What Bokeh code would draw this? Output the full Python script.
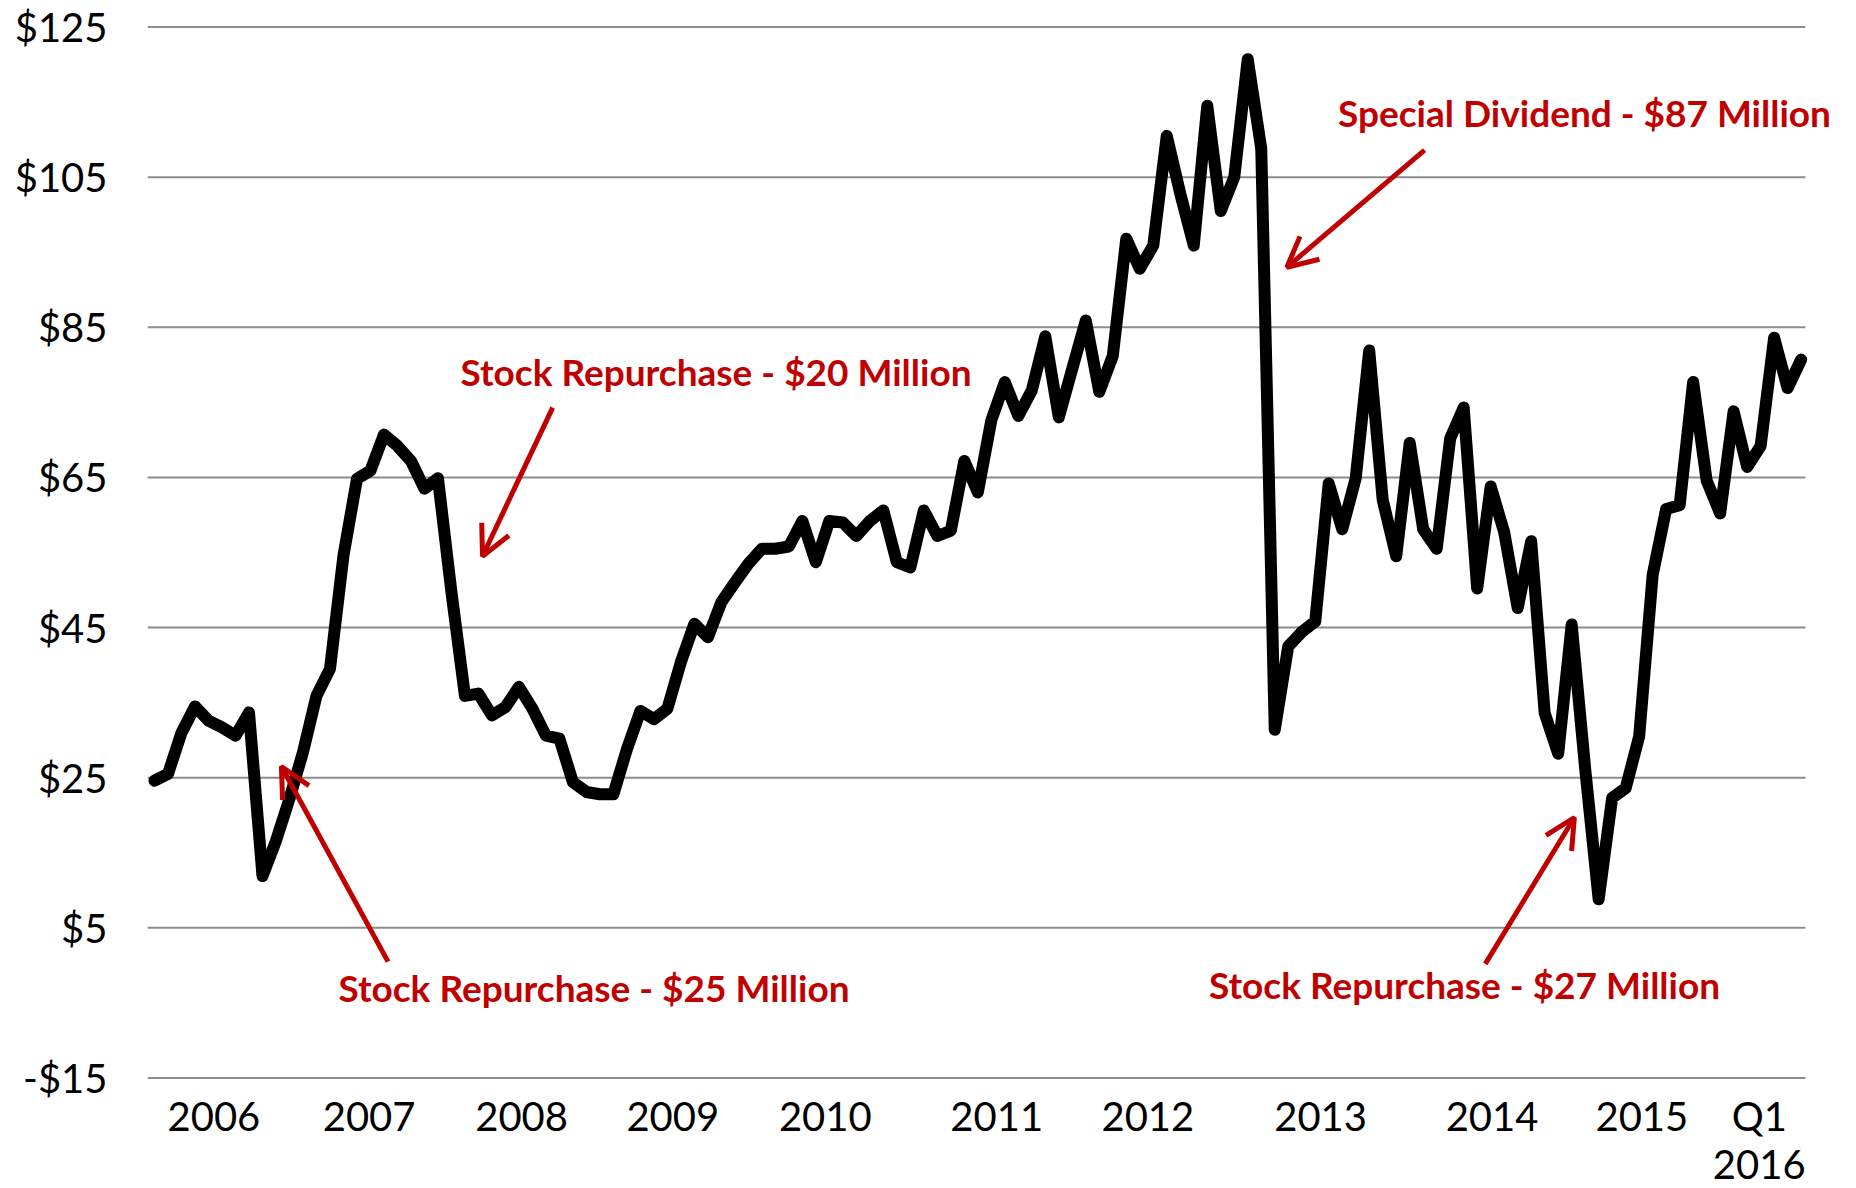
from bokeh.plotting import figure
from bokeh.models import Range1d, FixedTicker, Arrow, OpenHead, Label
from bokeh.embed import file_html
from bokeh.resources import INLINE

# ---- data ----
price = [
    24.6, 25.5, 31.0, 34.5, 32.6, 31.7, 30.6, 33.7, 11.9, 16.6,
    22.2, 28.4, 35.9, 39.5, 54.6, 64.8, 65.9, 70.7, 69.2, 67.2,
    63.5, 64.9, 49.7, 35.9, 36.2, 33.3, 34.4, 37.1, 34.2, 30.6,
    30.2, 24.4, 23.1, 22.8, 22.8, 28.8, 33.9, 32.8, 34.2, 40.4,
    45.5, 43.7, 48.4, 51.0, 53.5, 55.5, 55.5, 55.8, 59.2, 53.7,
    59.2, 59.0, 57.2, 59.2, 60.6, 53.7, 53.0, 60.6, 57.2, 57.9,
    67.2, 63.0, 72.6, 77.7, 73.2, 76.6, 83.8, 73.0, 79.5, 85.9,
    76.4, 81.2, 96.8, 92.8, 95.9, 110.5, 102.8, 95.9, 114.5, 100.5,
    105.0, 120.7, 108.8, 31.4, 42.5, 44.4, 45.8, 64.2, 58.1, 64.9,
    81.9, 62.0, 54.5, 69.6, 58.1, 55.5, 70.2, 74.3, 50.2, 63.8,
    57.7, 47.6, 56.5, 33.6, 28.2, 45.4, 26.2, 8.8, 22.3, 23.6,
    30.5, 52.0, 60.8, 61.3, 77.7, 64.6, 60.2, 73.8, 66.4, 69.2,
    83.6, 76.9, 80.7,
]
obs = list(range(len(price)))

year_labels = ["2006", "2007", "2008", "2009", "2010", "2011", "2012",
               "2013", "2014", "2015", "Q1\n2016"]
year_pos = [4.4, 15.9, 27.2, 38.4, 49.7, 62.4, 73.6, 86.4, 99.1, 110.2, 118.9]

y_ticks = [-15, 5, 25, 45, 65, 85, 105, 125]
y_tick_labels = ["-$15", "$5", "$25", "$45", "$65", "$85", "$105", "$125"]

events = ["Stock Repurchase - $20 Million",
          "Stock Repurchase - $25 Million",
          "Special Dividend - $87 Million",
          "Stock Repurchase - $27 Million"]
event_text_x = [41.6, 32.56, 105.95, 97.06]
event_text_y = [79.1, -2.9, 113.6, -2.6]
arrow_from_x = [29.5, 17.3, 94.1, 98.6]
arrow_from_y = [74.3, 0.5, 108.6, 0.2]
arrow_to_x = [24.3, 9.4, 83.9, 105.2]
arrow_to_y = [54.5, 26.5, 93.0, 19.7]

RED = "#C00000"
FONT = "Lato"
X_LO, X_GRID_HI = -0.52, 122.32   # x extent of the gridded plot area

p = figure(output_backend="svg", toolbar_location=None,
           x_range=Range1d(X_LO, 124.77), y_range=Range1d(-15.2, 125.2),
           min_border_left=147, min_border_right=2, min_border_top=25,
           min_border_bottom=0)
p.frame_width = 1691
p.frame_height = 1054

# horizontal gridlines, ending at the right edge of the gridded area
p.segment(x0=[X_LO] * len(y_ticks), x1=[X_GRID_HI] * len(y_ticks),
          y0=y_ticks, y1=y_ticks, line_color="#8c8c8c", line_width=2)

p.line(obs, price, line_color="black", line_width=12,
       line_join="round", line_cap="round")

for i, t in enumerate(events):
    p.add_layout(Arrow(end=OpenHead(size=30, line_width=5, line_color=RED),
                       x_start=arrow_from_x[i], y_start=arrow_from_y[i],
                       x_end=arrow_to_x[i], y_end=arrow_to_y[i],
                       line_color=RED, line_width=5))
    p.add_layout(Label(x=event_text_x[i], y=event_text_y[i], text=t,
                       text_align="center", text_baseline="alphabetic",
                       text_font=FONT, text_font_style="bold",
                       text_font_size="37px", text_color=RED))

p.outline_line_color = None
p.xgrid.visible = False
p.ygrid.visible = False

p.yaxis.ticker = FixedTicker(ticks=y_ticks)
p.yaxis.major_label_overrides = dict(zip(y_ticks, y_tick_labels))
p.xaxis.ticker = FixedTicker(ticks=year_pos)
p.xaxis.major_label_overrides = dict(zip(year_pos, year_labels))

for ax in (p.xaxis[0], p.yaxis[0]):
    ax.axis_line_color = None
    ax.major_tick_line_color = None
    ax.minor_tick_line_color = None
    ax.major_tick_in = 0
    ax.major_tick_out = 0
    ax.major_label_text_font = FONT
    ax.major_label_text_font_size = "40px"
    ax.major_label_text_color = "black"
p.yaxis.major_label_standoff = 40
p.xaxis.major_label_standoff = 12
p.xaxis.major_label_text_line_height = 1.0

open("out.html", "w").write(file_html(p, INLINE))
